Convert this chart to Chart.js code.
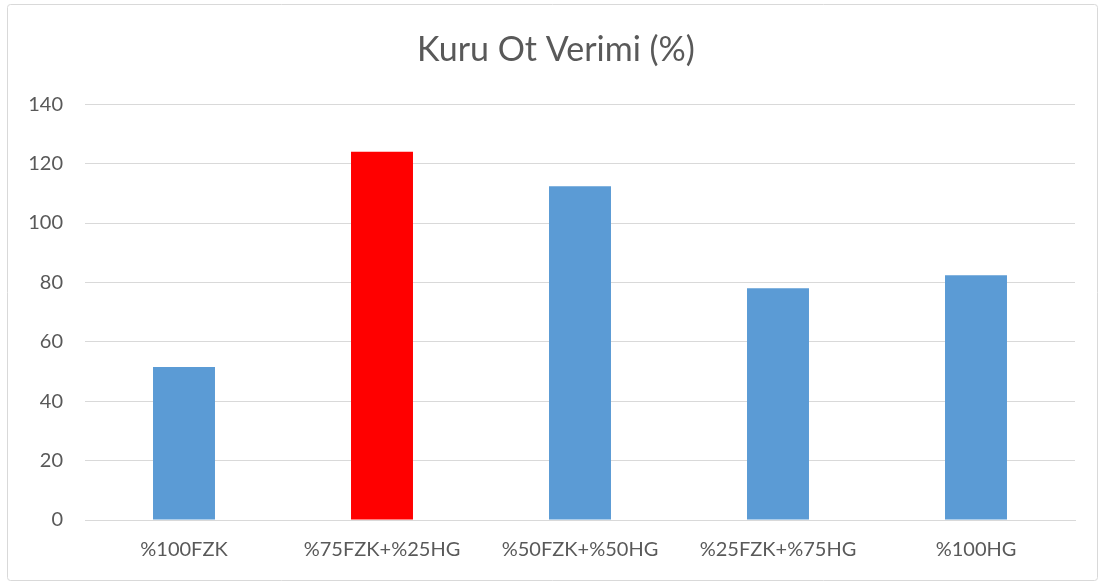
<!DOCTYPE html>
<html>
<head>
<meta charset="utf-8">
<script src="https://cdn.jsdelivr.net/npm/chart.js@4/dist/chart.umd.min.js"></script>
<style>
html,body{margin:0;padding:0;background:#fff;}
#wrap{position:relative;width:1105px;height:583px;}
</style>
</head>
<body>
<div id="wrap"><canvas id="c" width="1105" height="583"></canvas></div>
<script>
const categories = ["%100FZK", "%75FZK+%25HG", "%50FZK+%50HG", "%25FZK+%75HG", "%100HG"];
const values = [51.5, 124, 112.4, 78, 82.4];
const barColors = ["#5b9bd5", "#ff0000", "#5b9bd5", "#5b9bd5", "#5b9bd5"];
const yTicks = [0, 20, 40, 60, 80, 100, 120, 140];
const titleText = "Kuru Ot Verimi (%)";

const frame = {
  id: 'frame',
  beforeDraw(chart) {
    const ctx = chart.ctx;
    ctx.save();
    ctx.fillStyle = '#fff';
    ctx.fillRect(0, 0, chart.width, chart.height);
    ctx.strokeStyle = '#d9d9d9';
    ctx.lineWidth = 1;
    ctx.beginPath();
    ctx.roundRect(7.5, 4.5, 1090, 576, 3);
    ctx.stroke();
    ctx.restore();
  },
  afterDraw(chart) {
    const ctx = chart.ctx;
    ctx.save();
    ctx.fillStyle = '#595959';
    ctx.font = '34px Lato';
    ctx.textAlign = 'center';
    ctx.textBaseline = 'middle';
    ctx.fillText(titleText, 556, 50);
    ctx.restore();
  }
};

new Chart(document.getElementById('c'), {
  type: 'bar',
  data: {
    labels: categories,
    datasets: [{
      data: values,
      backgroundColor: barColors,
      borderWidth: 0,
      barPercentage: 0.313,
      categoryPercentage: 1
    }]
  },
  options: {
    responsive: false,
    animation: false,
    devicePixelRatio: 1,
    layout: { padding: { left: 0, right: 30, top: 0, bottom: 0 } },
    plugins: {
      legend: { display: false },
      tooltip: { enabled: false },
      title: {
        display: true,
        text: titleText,
        color: 'rgba(0,0,0,0)',
        font: { family: 'Lato', size: 31, weight: 'normal', lineHeight: 1.2 },
        padding: { top: 31, bottom: 36 }
      }
    },
    scales: {
      y: {
        min: 0, max: 140,
        afterBuildTicks(s) { s.ticks = yTicks.map(v => ({ value: v })); },
        afterFit(s) { s.width = 85; },
        grid: { color: '#d9d9d9', lineWidth: 1, drawTicks: false },
        border: { display: false },
        ticks: { color: '#595959', font: { family: 'Lato', size: 20 }, padding: 22 }
      },
      x: {
        afterFit(s) { s.height = 63; },
        grid: { display: false, drawTicks: false },
        border: { display: true, color: '#d9d9d9', width: 1 },
        ticks: { color: '#595959', font: { family: 'Lato', size: 20 }, padding: 18 }
      }
    }
  },
  plugins: [frame]
});
</script>
</body>
</html>
